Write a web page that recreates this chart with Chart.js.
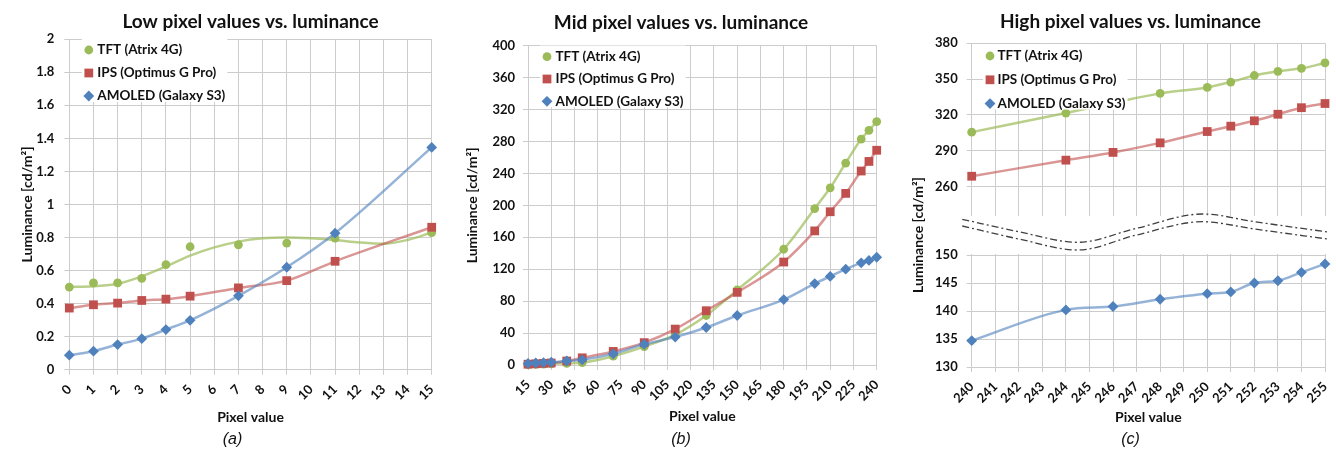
<!DOCTYPE html>
<html>
<head>
<meta charset="utf-8">
<script src="https://cdn.jsdelivr.net/npm/chart.js@4.4.1/dist/chart.umd.min.js"></script>
<style>
  html, body { margin: 0; padding: 0; background: #fff; overflow: hidden; width: 1336px; height: 449px; }
  canvas { position: absolute; top: 0; }
</style>
</head>
<body>
<canvas id="chartA" width="465" height="449" style="left:0px"></canvas>
<canvas id="chartB" width="442" height="449" style="left:460px"></canvas>
<canvas id="chartC" width="481" height="449" style="left:890px"></canvas>
<script>
// ---- data ----
const seriesNames = ['TFT (Atrix 4G)', 'IPS (Optimus G Pro)', 'AMOLED (Galaxy S3)'];

// (a) low pixel values
const lowX = [0, 1, 2, 3, 4, 5, 7, 9, 11, 15];
const lowTft = [0.50, 0.525, 0.525, 0.553, 0.636, 0.744, 0.756, 0.766, 0.796, 0.83];
const lowIps = [0.373, 0.393, 0.403, 0.419, 0.427, 0.445, 0.495, 0.539, 0.656, 0.862];
const lowAmoled = [0.088, 0.112, 0.152, 0.188, 0.243, 0.299, 0.447, 0.62, 0.826, 1.345];
// TFT trendline in (a) does not pass through the points, read separately
const lowTrendX = [0, 1, 2, 3, 4, 5, 6, 7, 8, 9, 10, 11, 12, 13, 14, 15];
const lowTftTrend = [0.50, 0.505, 0.52, 0.565, 0.625, 0.69, 0.74, 0.775, 0.795, 0.80, 0.795, 0.785, 0.77, 0.762, 0.785, 0.83];
const lowXTicks = [0, 1, 2, 3, 4, 5, 6, 7, 8, 9, 10, 11, 12, 13, 14, 15];
const lowYTicks = [0, 0.2, 0.4, 0.6, 0.8, 1, 1.2, 1.4, 1.6, 1.8, 2];

// (b) mid pixel values
const midX = [15, 20, 25, 30, 40, 50, 70, 90, 110, 130, 150, 180, 200, 210, 220, 230, 235, 240];
const midTft = [0.5, 0.8, 1, 1.5, 2, 3, 11, 23, 38, 62, 94, 145, 196, 222, 253, 283, 294, 305];
const midIps = [1, 1.5, 2, 2.5, 5, 9, 17, 28, 45, 68, 91, 129, 168, 192, 215, 243, 255, 269];
const midAmoled = [2, 2.5, 3, 3.5, 5, 6.5, 14, 26, 35, 47, 62, 82, 102, 111, 120, 128, 131, 135];
const midXTicks = [15, 30, 45, 60, 75, 90, 105, 120, 135, 150, 165, 180, 195, 210, 225, 240];
const midYTicks = [0, 40, 80, 120, 160, 200, 240, 280, 320, 360, 400];

// (c) high pixel values (broken y axis)
const highX = [240, 244, 246, 248, 250, 251, 252, 253, 254, 255];
const highTft = [305.5, 321.5, 330, 338, 343, 347.5, 353, 356.5, 359, 363.5];
const highIps = [268.5, 282, 288.5, 296.5, 306, 310.5, 315, 320.5, 326, 329.5];
const highAmoled = [134.7, 140.2, 140.8, 142.1, 143.1, 143.4, 145, 145.4, 146.9, 148.4];
const highXTicks = [240, 241, 242, 243, 244, 245, 246, 247, 248, 249, 250, 251, 252, 253, 254, 255];
const highTopTicks = [260, 290, 320, 350, 380];
const highBotTicks = [130, 135, 140, 145, 150];
// the two dash-dot break lines between the axis segments
const breakX = [239.6, 242, 244.5, 247, 249.8, 252, 255.2];
const breakUpper = [35.7, 23.3, 12.7, 26.7, 41, 33.3, 22.7];
const breakLower = [29, 16, 5, 20, 33.3, 26, 15.7];

// ---- styles ----
const GREEN = '#9bbb59', RED = '#c0504d', BLUE = '#4f81bd';
const GREEN_LINE = 'rgba(155,187,89,0.7)', RED_LINE = 'rgba(192,80,77,0.6)', BLUE_LINE = 'rgba(79,129,189,0.6)';
const GRID = '#cccccc';
const INK = '#111111';

Chart.defaults.font.family = 'Lato, "Open Sans", sans-serif';
Chart.defaults.color = INK;

const tickFont = { size: 13, weight: 'bold' };
const axisTitleFont = { size: 14, weight: 'bold' };
const chartTitleFont = { size: 19, weight: 'bold' };
const captionFont = { family: '"Liberation Sans", Arial, sans-serif', size: 16, style: 'italic' };

function xy(xs, ys) {
  return xs.map((x, i) => ({ x: x, y: ys[i] }));
}

function markers(label, xs, ys, color, style, radius, order, axis) {
  const d = {
    label: label, data: xy(xs, ys), showLine: false,
    pointStyle: style, pointRadius: radius, pointHoverRadius: radius,
    pointBackgroundColor: color, pointBorderWidth: 0,
    order: order, clip: false
  };
  if (axis) d.yAxisID = axis;
  return d;
}

function curve(xs, ys, color, order, axis) {
  const d = {
    data: xy(xs, ys), borderColor: color, borderWidth: 2.5, pointRadius: 0,
    cubicInterpolationMode: 'monotone', fill: false, order: order, clip: false
  };
  if (axis) d.yAxisID = axis;
  return d;
}

function useTicks(values) {
  return scale => { scale.ticks = values.map(v => ({ value: v })); };
}

// legend drawn inside the plot area, top left, like the Excel charts
const insideLegend = {
  id: 'insideLegend',
  afterDatasetsDraw(chart, args, opts) {
    const ctx = chart.ctx, ca = chart.chartArea;
    const sets = chart.data.datasets.filter(d => d.label);
    ctx.save();
    ctx.font = 'bold 13.5px Lato';
    const widest = Math.max(...sets.map(d => ctx.measureText(d.label).width));
    const x = ca.left + opts.dx, y0 = ca.top + opts.dy;
    ctx.fillStyle = '#fff';
    ctx.fillRect(x - 7, y0 - opts.gap / 2, widest + opts.textGap + 9, opts.gap * (sets.length - 1) + opts.gap / 2 + 6);
    sets.forEach((d, i) => {
      const y = y0 + i * opts.gap;
      ctx.fillStyle = d.pointBackgroundColor;
      Chart.helpers.drawPoint(ctx, { pointStyle: d.pointStyle, radius: d.pointRadius, borderWidth: 0, rotation: 0 }, x, y);
      ctx.fillStyle = INK;
      ctx.textBaseline = 'middle';
      ctx.textAlign = 'left';
      ctx.fillText(d.label, x + opts.textGap, y);
    });
    ctx.restore();
  }
};

// clears the grid in the break band of chart (c) and writes its y title
const brokenAxis = {
  id: 'brokenAxis',
  beforeDatasetsDraw(chart) {
    const g = chart.scales.yGap, ca = chart.chartArea;
    chart.ctx.clearRect(ca.left - 2, g.top + 1, ca.width + 4, g.height - 2);
  },
  afterDraw(chart, args, opts) {
    const g = chart.scales.yGap, ctx = chart.ctx;
    ctx.save();
    ctx.translate(opts.offset, (g.top + g.bottom) / 2);
    ctx.rotate(-Math.PI / 2);
    ctx.font = 'bold 14px Lato';
    ctx.fillStyle = INK;
    ctx.textAlign = 'center';
    ctx.textBaseline = 'middle';
    ctx.fillText(opts.text, 0, 0);
    ctx.restore();
  }
};

function xScale(min, max, ticks, height, titlePad) {
  return {
    type: 'linear', position: 'bottom', min: min, max: max,
    afterBuildTicks: useTicks(ticks),
    afterFit: s => { s.height = height; },
    ticks: { autoSkip: false, minRotation: 45, maxRotation: 45, padding: 7, font: tickFont, color: INK },
    grid: { color: GRID, tickLength: 5 },
    border: { display: false },
    title: { display: true, text: 'Pixel value', font: axisTitleFont, color: INK, padding: { top: 0, bottom: titlePad } }
  };
}

function yScale(min, max, ticks, width, pad, titlePad, extra) {
  return Object.assign({
    type: 'linear', position: 'left', min: min, max: max,
    afterBuildTicks: useTicks(ticks),
    afterFit: s => { s.width = width; },
    ticks: { padding: pad, font: tickFont, color: INK, callback: v => String(Math.round(v * 10) / 10) },
    grid: { color: GRID, tickLength: 5 },
    border: { display: false },
    title: { display: titlePad !== null, text: 'Luminance [cd/m²]', font: axisTitleFont, color: INK, padding: { top: titlePad || 0, bottom: 0 } }
  }, extra || {});
}

// empty right-hand axis: reserves the margin right of the plot so that
// the full-width title/caption stay centred on the whole canvas
function spacer(width) {
  return {
    type: 'linear', position: 'right', display: true,
    afterFit: s => { s.width = width; },
    ticks: { display: false }, grid: { display: false }, border: { display: false }
  };
}

function basePlugins(title, caption, titlePad, legend) {
  return {
    legend: { display: false },
    tooltip: { enabled: false },
    title: { display: true, text: title, font: chartTitleFont, color: '#111', padding: titlePad, fullSize: true },
    subtitle: { display: true, text: caption, position: 'bottom', font: captionFont, color: INK, padding: 0 },
    insideLegend: legend
  };
}

// ---- (a) ----
const optsA = {
  responsive: false, animation: false, events: [],
  plugins: basePlugins('Low pixel values vs. luminance', '(a)', { top: 10.1, bottom: 6.3 }, { dx: 19.5, dy: 10.8, gap: 23, textGap: 8.5 }),
  scales: {
    x: xScale(0, 15, lowXTicks, 60.1, 4.4),
    y: yScale(0, 2, lowYTicks, 69.3, 10, 18.6),
    right: spacer(33.3)
  }
};
optsA.plugins.title.fullSize = false;

new Chart(document.getElementById('chartA'), {
  type: 'line',
  data: {
    datasets: [
      markers(seriesNames[0], lowX, lowTft, GREEN, 'circle', 4.4, 4),
      markers(seriesNames[1], lowX, lowIps, RED, 'rect', 6.2, 2),
      markers(seriesNames[2], lowX, lowAmoled, BLUE, 'rectRot', 5.4, 0),
      curve(lowTrendX, lowTftTrend, GREEN_LINE, 5),
      curve(lowX, lowIps, RED_LINE, 3),
      curve(lowX, lowAmoled, BLUE_LINE, 1)
    ]
  },
  options: optsA,
  plugins: [insideLegend]
});

// ---- (b) ----
new Chart(document.getElementById('chartB'), {
  type: 'line',
  data: {
    datasets: [
      markers(seriesNames[0], midX, midTft, GREEN, 'circle', 4.4, 4),
      markers(seriesNames[1], midX, midIps, RED, 'rect', 6.2, 2),
      markers(seriesNames[2], midX, midAmoled, BLUE, 'rectRot', 5.4, 0),
      curve(midX, midTft, GREEN_LINE, 5),
      curve(midX, midIps, RED_LINE, 3),
      curve(midX, midAmoled, BLUE_LINE, 1)
    ]
  },
  options: {
    responsive: false, animation: false, events: [],
    plugins: basePlugins('Mid pixel values vs. luminance', '(b)', { top: 11.1, bottom: 11.8 }, { dx: 19, dy: 11, gap: 22.3, textGap: 8.5 }),
    scales: {
      x: xScale(15, 240, midXTicks, 64.8, 5.4),
      y: yScale(0, 400, midYTicks, 68, 8, 4.1),
      right: spacer(25.3)
    }
  },
  plugins: [insideLegend]
});

// ---- (c) ----
const breakStyle = { borderColor: '#404040', borderWidth: 1.3, borderDash: [7, 3, 2, 3] };
new Chart(document.getElementById('chartC'), {
  type: 'line',
  data: {
    datasets: [
      markers(seriesNames[0], highX, highTft, GREEN, 'circle', 4.4, 4, 'yTop'),
      markers(seriesNames[1], highX, highIps, RED, 'rect', 6.2, 2, 'yTop'),
      markers(seriesNames[2], highX, highAmoled, BLUE, 'rectRot', 5.4, 0, 'yBot'),
      curve(highX, highTft, GREEN_LINE, 5, 'yTop'),
      curve(highX, highIps, RED_LINE, 3, 'yTop'),
      curve(highX, highAmoled, BLUE_LINE, 1, 'yBot'),
      Object.assign(curve(breakX, breakUpper, '#404040', 6, 'yGap'), breakStyle),
      Object.assign(curve(breakX, breakLower, '#404040', 6, 'yGap'), breakStyle)
    ]
  },
  options: {
    responsive: false, animation: false, events: [],
    plugins: Object.assign(
      basePlugins('High pixel values vs. luminance', '(c)', { top: 10.3, bottom: 10.2 }, { dx: 18.3, dy: 12.7, gap: 23.8, textGap: 7.5 }),
      { brokenAxis: { offset: 28.3, text: 'Luminance [cd/m²]' } }
    ),
    scales: {
      x: xScale(240, 255, highXTicks, 62.8, 3.9),
      yBot: yScale(130, 150, highBotTicks, 81.7, 9, null, { stack: 'c', stackWeight: 112, weight: 1 }),
      yGap: {
        type: 'linear', position: 'left', min: 0, max: 40, stack: 'c', stackWeight: 40, weight: 2,
        afterFit: s => { s.width = 81.7; },
        ticks: { display: false }, grid: { display: false }, border: { display: false }
      },
      yTop: yScale(236, 380, highTopTicks, 81.7, 9, null, { stack: 'c', stackWeight: 171.7, weight: 3 }),
      right: spacer(46)
    }
  },
  plugins: [insideLegend, brokenAxis]
});
</script>
</body>
</html>
